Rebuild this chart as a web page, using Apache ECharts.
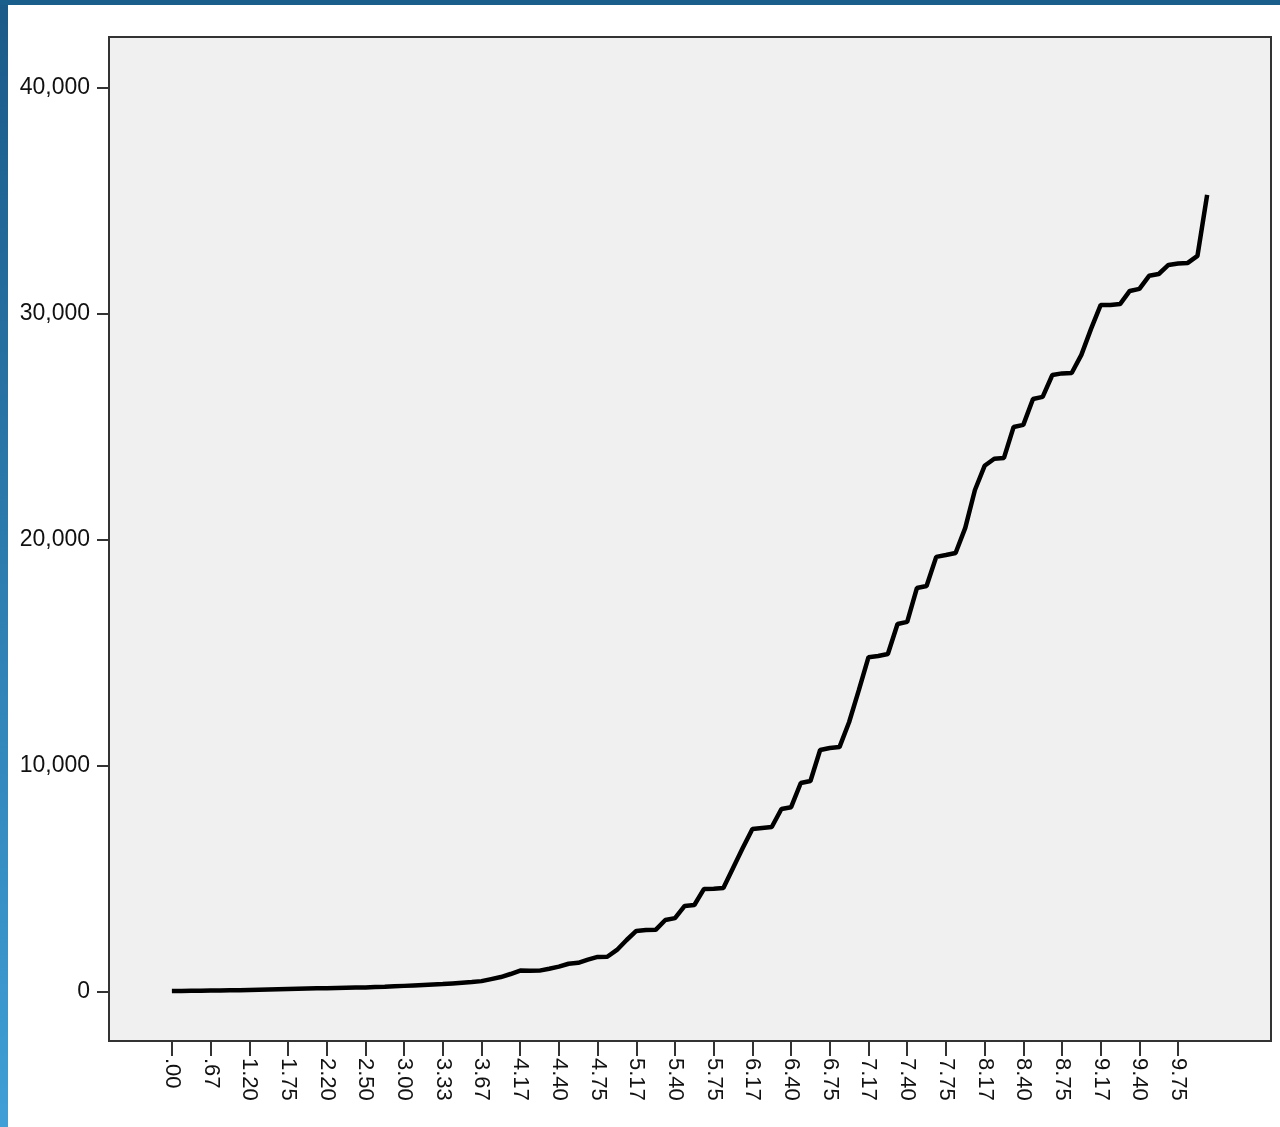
<!doctype html>
<html>
<head>
<meta charset="UTF-8">
<title></title>
<style>
	html, body { margin: 0; padding: 0; background: #fff; }
	#main { width: 1280px; height: 1127px; }
</style>
</head>
<body>
<div id="main"></div>
<script src="https://cdn.jsdelivr.net/npm/echarts@6/dist/echarts.min.js"></script>
<script>
	// categories (x), only every 4th one is labelled on the axis
	var categories = [
		'.00', '.20', '.33', '.50', '.67', '.75', '.80', '1.00',
		'1.20', '1.25', '1.33', '1.50', '1.75', '1.80', '2.00', '2.17',
		'2.20', '2.25', '2.33', '2.40', '2.50', '2.67', '2.75', '2.80',
		'3.00', '3.17', '3.20', '3.25', '3.33', '3.40', '3.50', '3.60',
		'3.67', '3.75', '3.80', '4.00', '4.17', '4.20', '4.25', '4.33',
		'4.40', '4.50', '4.60', '4.67', '4.75', '4.80', '4.83', '5.00',
		'5.17', '5.20', '5.25', '5.33', '5.40', '5.50', '5.60', '5.67',
		'5.75', '5.80', '5.83', '6.00', '6.17', '6.20', '6.25', '6.33',
		'6.40', '6.50', '6.60', '6.67', '6.75', '6.80', '6.83', '7.00',
		'7.17', '7.20', '7.25', '7.33', '7.40', '7.50', '7.60', '7.67',
		'7.75', '7.80', '7.83', '8.00', '8.17', '8.20', '8.25', '8.33',
		'8.40', '8.50', '8.60', '8.67', '8.75', '8.80', '8.83', '9.00',
		'9.17', '9.20', '9.25', '9.33', '9.40', '9.50', '9.60', '9.67',
		'9.75', '9.80', '9.83', '10.00'
	];
	var values = [
		30, 35, 40, 45, 55, 60, 65, 70,
		80, 90, 100, 110, 120, 130, 140, 150,
		160, 170, 180, 185, 190, 205, 220, 240,
		260, 280, 300, 320, 340, 370, 400, 430,
		470, 560, 650, 785, 940, 930, 935, 1020,
		1110, 1240, 1280, 1420, 1540, 1550, 1850, 2290,
		2690, 2730, 2740, 3175, 3260, 3800, 3840, 4550,
		4560, 4590, 5480, 6360, 7200, 7250, 7290, 8090,
		8170, 9240, 9330, 10700, 10790, 10830, 11940, 13350,
		14810, 14860, 14950, 16280, 16370, 17870, 17960, 19250,
		19330, 19420, 20530, 22210, 23280, 23590, 23630, 25000,
		25090, 26240, 26330, 27300, 27370, 27390, 28190, 29340,
		30400, 30400, 30440, 31020, 31110, 31690, 31770, 32170,
		32230, 32260, 32570, 35270
	];
	var yTicks = [0, 10000, 20000, 30000, 40000];
	var xTicks = [0, 4, 8, 12, 16, 20, 24, 28, 32, 36, 40, 44, 48, 52,
		56, 60, 64, 68, 72, 76, 80, 84, 88, 92, 96, 100, 104];

	var font = '"Liberation Sans", Arial, sans-serif';
	var chart = echarts.init(document.getElementById('main'));
	chart.setOption({
		backgroundColor: '#fff',
		animation: false,
		graphic: [{
			type: 'rect',
			shape: { x: 0, y: 0, width: 8, height: 1127 },
			style: {
				fill: new echarts.graphic.LinearGradient(0, 0, 0, 1, [
					{ offset: 0, color: '#1a5a88' },
					{ offset: 1, color: '#3f9fd6' }
				])
			}
		}, {
			type: 'rect',
			shape: { x: 0, y: 0, width: 1280, height: 5 },
			style: { fill: '#1a5e8c' }
		}],
		grid: {
			left: 109, right: 9, top: 37, bottom: 86,
			show: true,
			backgroundColor: '#f0f0f0',
			borderColor: '#333',
			borderWidth: 2
		},
		xAxis: {
			type: 'value',
			min: -6.5,
			max: 113.6,
			axisLine: { show: false, onZero: false },
			splitLine: { show: false },
			axisTick: {
				show: true,
				customValues: xTicks,
				length: 15,
				lineStyle: { color: '#333', width: 2 }
			},
			axisLabel: {
				customValues: xTicks,
				rotate: -90,
				margin: 17,
				color: '#111',
				fontFamily: font,
				fontSize: 22,
				formatter: function (v) { return categories[v]; }
			}
		},
		yAxis: {
			type: 'value',
			min: -2180,
			max: 42260,
			axisLine: { show: false, onZero: false },
			splitLine: { show: false },
			axisTick: {
				show: true,
				customValues: yTicks,
				length: 12,
				lineStyle: { color: '#333', width: 2 }
			},
			axisLabel: {
				customValues: yTicks,
				margin: 19,
				color: '#111',
				fontFamily: font,
				fontSize: 23,
				formatter: function (v) {
					return String(v).replace(/\B(?=(\d{3})+(?!\d))/g, ',');
				}
			}
		},
		series: [{
			type: 'line',
			showSymbol: false,
			lineStyle: { color: '#000', width: 4.5 },
			data: values.map(function (v, i) { return [i, v]; })
		}]
	});
</script>
</body>
</html>
